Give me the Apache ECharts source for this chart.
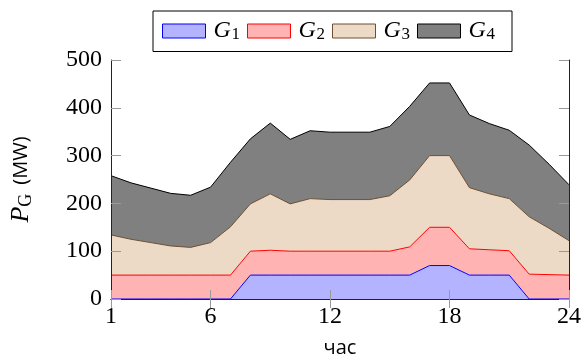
<!DOCTYPE html>
<html>
<head>
<meta charset="utf-8">
<script src="https://cdn.jsdelivr.net/npm/echarts@6/dist/echarts.min.js"></script>
<style>
  html, body { margin: 0; padding: 0; background: #fff; }
  #chart { width: 584px; height: 363px; }
</style>
</head>
<body>
<div id="chart"></div>
<script>
// Hourly generation per unit (MW), stacked
const hours = ['1','2','3','4','5','6','7','8','9','10','11','12','13','14','15','16','17','18','19','20','21','22','23','24'];
const g1 = [0, 0, 0, 0, 0, 0, 0, 50, 50, 50, 50, 50, 50, 50, 50, 50, 70, 70, 50, 50, 50, 0, 0, 0];
const g2 = [50, 50, 50, 50, 50, 50, 50, 50, 52, 50, 50, 50, 50, 50, 50, 59, 80, 80, 55, 53, 51, 52, 51, 50];
const g3 = [84, 75, 68, 61, 58, 68, 101, 99, 118, 99, 110, 108, 108, 108, 116, 140, 150, 150, 128, 117, 109, 120, 97, 72];
const g4 = [124, 118, 114, 110, 109, 116, 135, 136, 148, 135, 142, 141, 141, 141, 145, 154, 152, 152, 152, 147, 143, 150, 134, 117];
const seriesNames = ['G1', 'G2', 'G3', 'G4'];
const xTickLabels = ['1', '6', '12', '18', '24'];

const seriesValues = [g1, g2, g3, g4];
const palette = [
  { fill: '#b3b3ff', line: '#0000ff' },
  { fill: '#ffb3b3', line: '#ff0000' },
  { fill: '#ecd9c6', line: '#6e4f30' },
  { fill: '#808080', line: '#000000' }
];

const serif = 'Liberation Serif';
const sans = 'Open Sans';
const frameColor = '#222';
const tickColor = '#9a9a9a';

const showTick = (idx, val) => xTickLabels.includes(String(val));

const chart = echarts.init(document.getElementById('chart'), null, { renderer: 'canvas' });

chart.setOption({
  animation: false,
  grid: { left: 111, right: 13, top: 60, bottom: 60 },
  legend: {
    top: 11,
    left: 153,
    orient: 'horizontal',
    itemWidth: 43,
    itemHeight: 14,
    itemGap: 7,
    padding: [8, 17, 8, 9],
    borderColor: '#000',
    borderWidth: 1,
    data: seriesNames.map((n, i) => ({
      name: n,
      icon: 'rect',
      itemStyle: { color: palette[i].fill, borderColor: palette[i].line, borderWidth: 1 }
    })),
    formatter: n => '{i|' + n.charAt(0) + '}{s|' + n.slice(1) + '}',
    textStyle: {
      rich: {
        i: { fontFamily: serif, fontStyle: 'italic', fontSize: 24, color: '#000', width: 18, padding: [0, 0, 0, 3] },
        s: { fontFamily: serif, fontSize: 17, color: '#000', width: 10, verticalAlign: 'bottom', padding: [8, 0, 0, 0] }
      }
    }
  },
  xAxis: [{
    type: 'category',
    data: hours,
    boundaryGap: false,
    z: 10,
    name: 'час',
    nameLocation: 'middle',
    nameGap: 39,
    nameTextStyle: { fontFamily: sans, fontSize: 20, color: '#000' },
    axisLine: { lineStyle: { color: frameColor, width: 1 } },
    axisTick: { inside: true, length: 9, interval: showTick, lineStyle: { color: tickColor } },
    axisLabel: { interval: showTick, fontFamily: serif, fontSize: 24, color: '#000', margin: 6 },
    splitLine: { show: false }
  }, {
    type: 'category',
    data: hours,
    boundaryGap: false,
    position: 'top',
    z: 10,
    axisLine: { lineStyle: { color: frameColor, width: 1 } },
    axisTick: { inside: true, length: 9, interval: showTick, lineStyle: { color: tickColor } },
    axisLabel: { show: false },
    splitLine: { show: false }
  }],
  yAxis: [{
    type: 'value',
    min: 0,
    max: 500,
    interval: 100,
    z: 10,
    name: '{i|P}{s|G}{g| }(MW)',
    nameLocation: 'middle',
    nameRotate: 90,
    nameGap: 76,
    nameTextStyle: {
      fontFamily: sans, fontSize: 20, color: '#000',
      rich: {
        i: { fontFamily: serif, fontStyle: 'italic', fontSize: 26, color: '#000' },
        s: { fontFamily: serif, fontSize: 18, color: '#000', verticalAlign: 'bottom', padding: [9, 0, 0, 0] },
        g: { fontFamily: sans, fontSize: 20, width: 9 }
      }
    },
    axisLine: { show: true, lineStyle: { color: frameColor, width: 1 } },
    axisTick: { show: true, inside: true, length: 10, lineStyle: { color: tickColor } },
    axisLabel: { fontFamily: serif, fontSize: 24, color: '#000', margin: 9 },
    splitLine: { show: false }
  }, {
    type: 'value',
    min: 0,
    max: 500,
    interval: 100,
    position: 'right',
    z: 10,
    axisLine: { show: true, lineStyle: { color: frameColor, width: 1 } },
    axisTick: { show: true, inside: true, length: 10, lineStyle: { color: tickColor } },
    axisLabel: { show: false },
    splitLine: { show: false }
  }],
  series: seriesNames.map((n, i) => ({
    name: n,
    type: 'line',
    stack: 'gen',
    data: seriesValues[i],
    symbol: 'none',
    smooth: false,
    lineStyle: { color: palette[i].line, width: 1 },
    itemStyle: { color: palette[i].fill, borderColor: palette[i].line },
    areaStyle: { color: palette[i].fill, opacity: 1 }
  }))
});
</script>
</body>
</html>
